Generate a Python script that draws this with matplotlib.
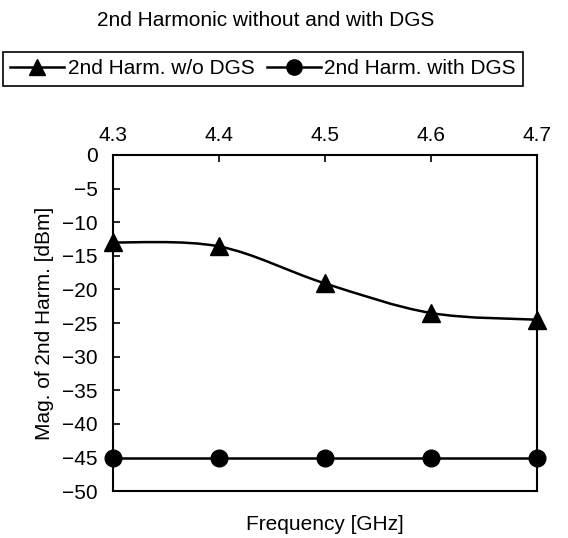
import matplotlib.pyplot as plt
import numpy as np
from matplotlib.path import Path
from matplotlib.patches import PathPatch
from matplotlib.lines import Line2D

plt.rcParams['font.family'] = ['Liberation Sans', 'DejaVu Sans']

freq = [4.3, 4.4, 4.5, 4.6, 4.7]
without_dgs = [-13.0, -13.6, -19.1, -23.5, -24.5]
with_dgs = [-45, -45, -45, -45, -45]
yticks = list(range(0, -55, -5))

def smooth_path(xs, ys):
    # Excel-like smoothed line: Catmull-Rom turned into bezier segments
    pts = np.column_stack([xs, ys])
    verts = [pts[0]]
    codes = [Path.MOVETO]
    n = len(pts)
    for i in range(n - 1):
        p0 = pts[i - 1] if i > 0 else pts[i]
        p1 = pts[i]
        p2 = pts[i + 1]
        p3 = pts[i + 2] if i + 2 < n else pts[i + 1]
        c1 = p1 + (p2 - p0) / 6.0
        c2 = p2 - (p3 - p1) / 6.0
        verts += [c1, c2, p2]
        codes += [Path.CURVE4] * 3
    return Path(verts, codes)

fig = plt.figure(figsize=(5.68, 5.38), dpi=100)
ax = fig.add_axes([0.199, 0.087, 0.746, 0.625])

ax.add_patch(PathPatch(smooth_path(freq, without_dgs), fill=False, lw=1.8, ec='black'))
ax.plot(freq, without_dgs, ls='none', marker='^', ms=13, color='black', clip_on=False, zorder=3)
ax.plot(freq, with_dgs, '-', lw=1.8, marker='o', ms=12, color='black', clip_on=False, zorder=3)

ax.set_xlim(4.3, 4.7)
ax.set_ylim(-50, 0)
ax.set_xticks(freq)
ax.set_xticklabels(['%.1f' % f for f in freq])
ax.set_yticks(yticks)
ax.set_yticklabels([str(t).replace('-', '\u2212') for t in yticks])
ax.xaxis.tick_top()
ax.tick_params(axis='both', direction='in', labelsize=15, length=5, width=1.2)
ax.tick_params(axis='x', pad=7)
ax.tick_params(axis='y', pad=11)
for s in ax.spines.values():
    s.set_linewidth(1.5)

ax.set_ylabel('Mag. of 2nd Harm. [dBm]', fontsize=15, labelpad=6)
ax.set_xlabel('Frequency [GHz]', fontsize=15, labelpad=17)
ax.xaxis.set_label_position('bottom')

fig.text(0.467, 0.962, '2nd Harmonic without and with DGS', ha='center', va='center', fontsize=15)

handles = [Line2D([], [], color='black', lw=1.8, marker='^', ms=12),
           Line2D([], [], color='black', lw=1.8, marker='o', ms=11)]
leg = fig.legend(handles, ['2nd Harm. w/o DGS', '2nd Harm. with DGS'], ncol=2,
                 loc='center', bbox_to_anchor=(0.463, 0.872), fontsize=15,
                 fancybox=False, edgecolor='black', framealpha=1,
                 handlelength=2.6, handletextpad=0.15, columnspacing=0.6,
                 borderpad=0.35, borderaxespad=0)
leg.get_frame().set_linewidth(1.2)

fig.savefig('out.png', dpi=100)
